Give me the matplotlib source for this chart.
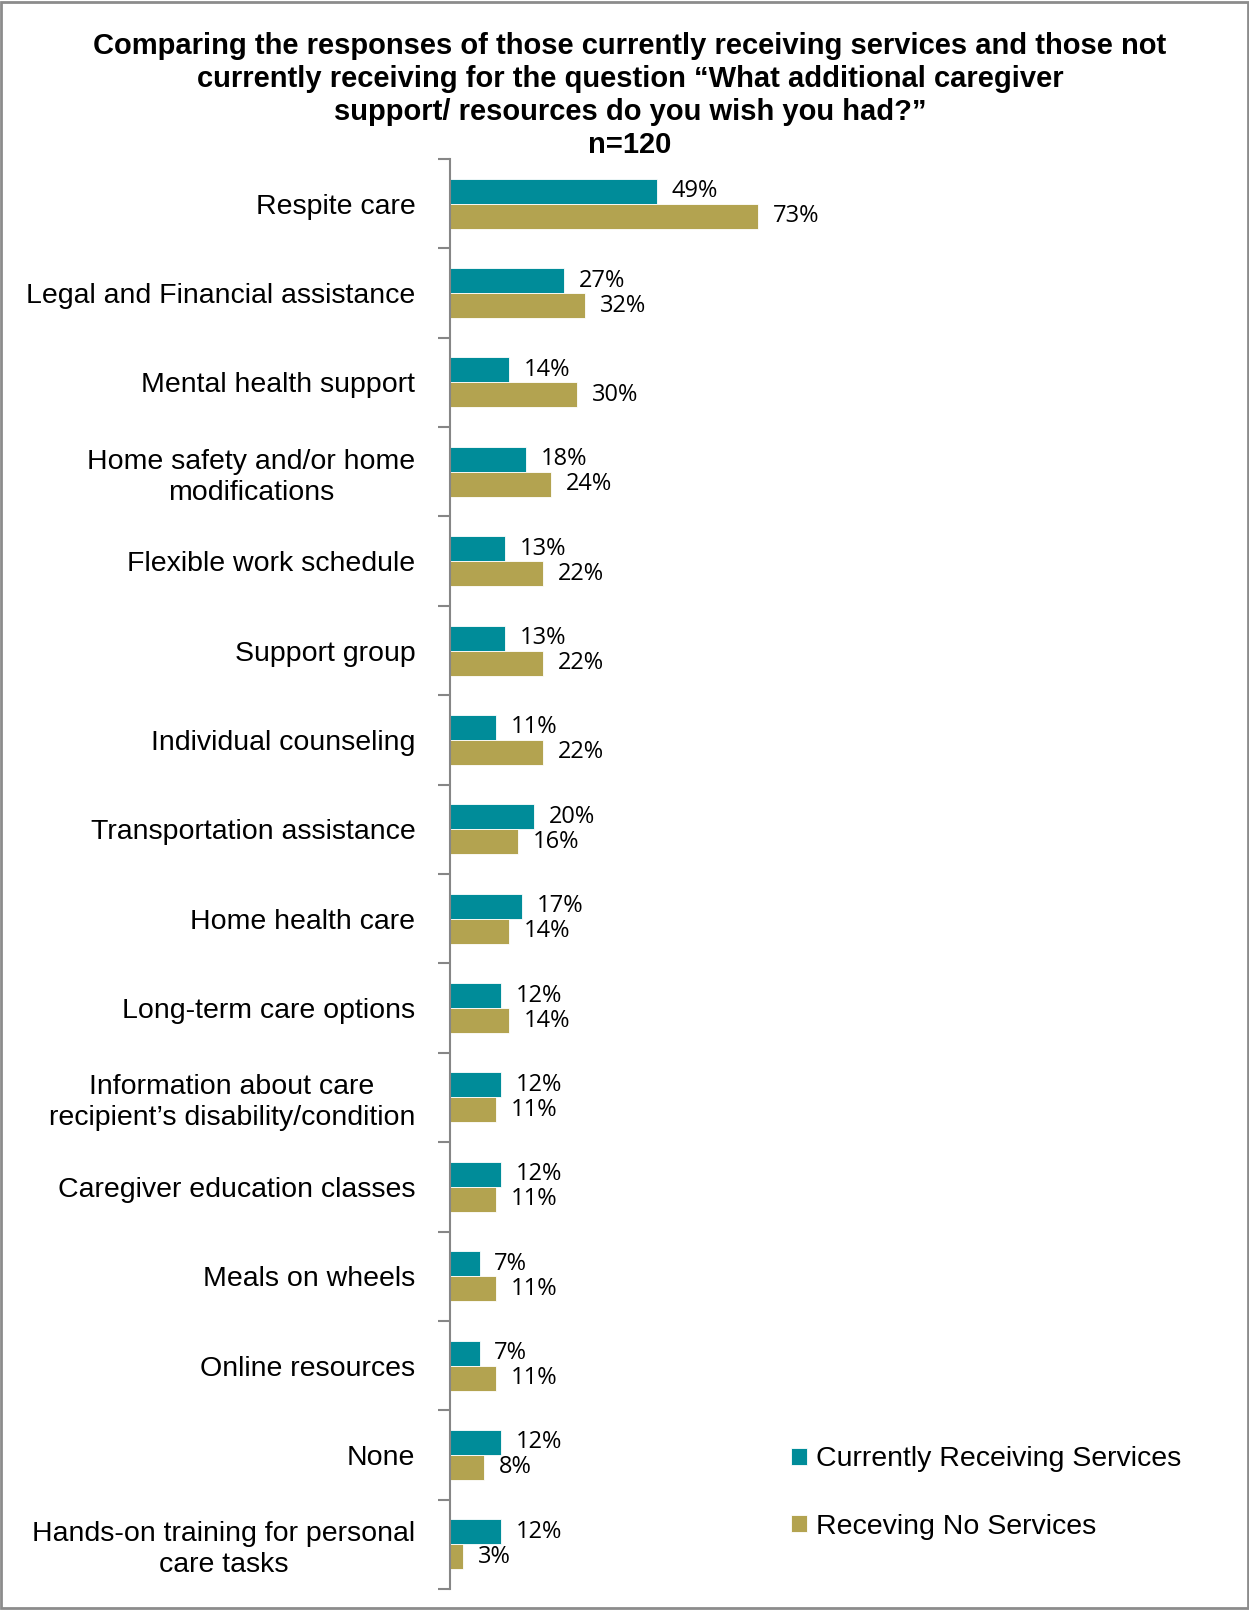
import matplotlib
matplotlib.use('Agg')
import matplotlib.pyplot as plt
import numpy as np

# survey categories, top to bottom
categories = ['Respite care', 'Legal and Financial assistance', 'Mental health support',
              'Home safety and/or home\nmodifications', 'Flexible work schedule',
              'Support group', 'Individual counseling', 'Transportation assistance',
              'Home health care', 'Long-term care options',
              'Information about care\nrecipient\u2019s disability/condition',
              'Caregiver education classes', 'Meals on wheels', 'Online resources',
              'None', 'Hands-on training for personal\ncare tasks']
receiving = [49, 27, 14, 18, 13, 13, 11, 20, 17, 12, 12, 12, 7, 7, 12, 12]
not_receiving = [73, 32, 30, 24, 22, 22, 22, 16, 14, 14, 11, 11, 11, 11, 8, 3]
series_names = ['Currently Receiving Services', 'Receving No Services']

teal = '#008C99'
gold = '#B3A350'
axis_grey = '#868686'

plt.rcParams['font.family'] = ['Liberation Sans', 'DejaVu Sans']

fig = plt.figure(figsize=(12.49, 16.10), dpi=100)
ax = fig.add_axes([450 / 1249, 21 / 1610, 790 / 1249, 1430 / 1610])

n = len(categories)
y = np.arange(n)
h = 0.28
b1 = ax.barh(y - h / 2, receiving, height=h, color=teal, edgecolor='white', linewidth=0.6,
             label=series_names[0])
b2 = ax.barh(y + h / 2, not_receiving, height=h, color=gold, edgecolor='white', linewidth=0.6,
             label=series_names[1])

# value labels next to the bars
for bars, vals in ((b1, receiving), (b2, not_receiving)):
    for bar, v in zip(bars, vals):
        ax.text(v + 3.5, bar.get_y() + bar.get_height() / 2, f'{v}%',
                va='center', ha='left', fontsize=17, family=['Open Sans', 'DejaVu Sans'])

ax.set_ylim(n - 0.5, -0.5)
ax.set_xlim(0, 187)

ax.set_yticks(y)
ax.set_yticklabels(categories, fontsize=20.5, multialignment='center', linespacing=1.25)
ax.tick_params(axis='y', which='major', length=0, pad=25)
ax.set_yticks(np.arange(n + 1) - 0.5, minor=True)
ax.tick_params(axis='y', which='minor', length=9, width=1.5, color=axis_grey)
ax.set_xticks([])

for side in ('top', 'right', 'bottom'):
    ax.spines[side].set_visible(False)
ax.spines['left'].set_color(axis_grey)
ax.spines['left'].set_linewidth(1.5)

title = ('Comparing the responses of those currently receiving services and those not\n'
         'currently receiving for the question \u201cWhat additional caregiver\n'
         'support/ resources do you wish you had?\u201d\n'
         'n=120')
fig.text(630 / 1249, 1 - 32 / 1610, title, ha='center', va='top', fontsize=21,
         fontweight='bold', linespacing=1.23)

fig.legend(handles=[b1, b2], labels=series_names, loc='upper left',
           bbox_to_anchor=(780 / 1249, 1 - 1435 / 1610), frameon=False, fontsize=20.5,
           handlelength=0.55, handleheight=0.55, handletextpad=0.3, labelspacing=1.45,
           borderaxespad=0)

# grey frame around the whole chart
fig.patches.append(plt.Rectangle((0.001, 0.001), 0.998, 0.998, transform=fig.transFigure,
                                 fill=False, edgecolor='#8c8c8c', linewidth=2))

fig.savefig('out.png', dpi=100)
